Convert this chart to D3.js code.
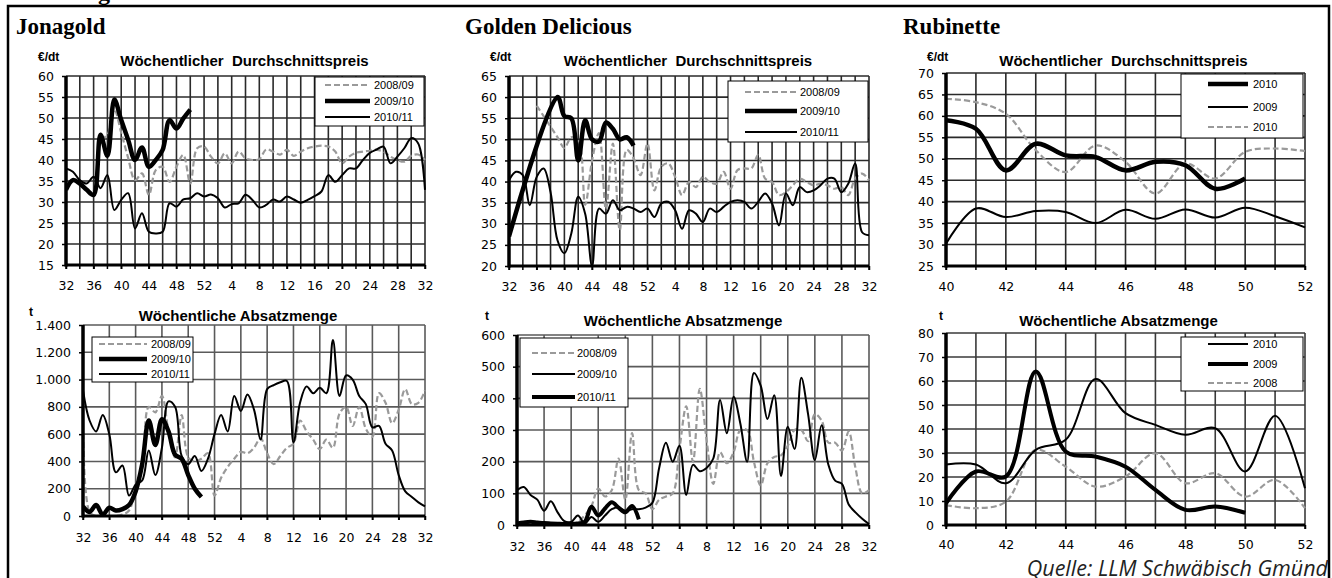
<!DOCTYPE html>
<html>
<head>
<meta charset="utf-8">
<script src="https://cdn.jsdelivr.net/npm/d3@7"></script>
<style>
  body { margin: 0; background: #fff; }
  svg { display: block; font-family: "Liberation Sans", Arial, sans-serif; }
</style>
</head>
<body>
<svg id="chart" width="1332" height="578"></svg>
<script>
// season weeks: 32..52 then 1..32
const seasonWeeks = d3.range(32, 53).concat(d3.range(1, 33));
const seasonTickIdx = d3.range(0, 53, 4);
const rubWeeks = d3.range(40, 53);

// Jonagold, weekly price (EUR/dt)
const jonaPrice0809 = [null, null, null, null, null, 45, 46, 52, 46.5, 40.5, 35.2, 36.8, 31.7, 37.6, 38.4, 34.8, 38.4, 41.2, 34.4, 42.8, 43.2, 40.8, 39.2, 41.6, 39.2, 42, 40.4, 40, 40.2, 42.5, 42, 41.3, 42.4, 41, 42, 42.8, 43.2, 43.4, 43.2, 42, 39.2, 40.8, 41.7, 42, 42.2, 42.4, 42, 40.8, 40, 39.6, 41, 41.3, 40];
const jonaPrice0910 = [32.9, 35.2, 34.4, 32.9, 31.7, 46, 41, 54.4, 49.5, 44.8, 40, 43, 38.4, 40, 42.4, 49.5, 47.5, 49.9, 52];
const jonaPrice1011 = [38, 37.2, 35.2, 34.4, 36, 33.3, 36.4, 28.1, 30.5, 32.1, 23.7, 27.3, 22.9, 22.5, 22.9, 29.7, 28.9, 30.6, 30.9, 32.1, 31.3, 31.8, 30.9, 28.7, 29.5, 29.7, 31.7, 30.5, 28.7, 29.3, 30.6, 30.1, 31.3, 30.6, 29.8, 30.5, 31.4, 32.5, 36.4, 34.8, 36.4, 38, 38, 40, 41.7, 42.5, 43.2, 39.2, 40.8, 42.8, 45.2, 44, 32.9];

// Jonagold, weekly sales (t)
const jonaAbs0809 = [1400, 30, 0, 0, 0, 0, 10, 40, 200, 350, 800, 760, 880, 620, 430, 740, 430, 400, 420, 460, 150, 280, 360, 420, 470, 460, 500, 570, 460, 380, 440, 500, 530, 700, 620, 560, 490, 560, 500, 750, 800, 660, 800, 640, 580, 900, 830, 680, 780, 930, 820, 830, 920];
const jonaAbs0910 = [70, 30, 80, 10, 60, 40, 50, 80, 180, 380, 700, 520, 710, 620, 450, 420, 300, 200, 140];
const jonaAbs1011 = [920, 700, 620, 740, 600, 320, 370, 150, 230, 260, 480, 300, 500, 840, 800, 440, 380, 440, 330, 420, 600, 740, 620, 880, 770, 890, 780, 560, 930, 960, 980, 990, 540, 830, 950, 900, 940, 900, 1290, 880, 1030, 1000, 880, 820, 650, 660, 530, 480, 300, 180, 140, 100, 70];

// Golden Delicious, weekly price (EUR/dt)
const goldPrice0809 = [null, null, null, null, 58, 55.5, 53, 50.5, 48, 50.5, 50, 34.5, 45, 51.5, 33.5, 49, 28.5, 47.5, 45.5, 41.5, 49, 37.9, 43.5, 44.3, 41.1, 36.8, 39.9, 38.7, 41.1, 39.9, 39.5, 42.3, 38.3, 42.7, 43.1, 43.1, 46.3, 40.7, 39.9, 36.8, 37.5, 39.1, 40.7, 39.9, 39.1, 39.5, 39.1, 38.3, 38.7, 36.8, 40.7, 41.9, 40.3];
const goldPrice0910 = [27, null, null, null, null, null, null, 60, 55.5, 55, 45, 54.5, 50, 49.5, 54, 52.5, 50, 50.5, 48.5];
const goldPrice1011 = [40.3, 42.3, 41.5, 34.4, 41.1, 43.1, 37.5, 26.1, 23, 27.7, 36.4, 32.4, 20, 33.6, 32.4, 35.6, 33.2, 34, 33.6, 32.8, 33.6, 31.6, 34.8, 35.2, 33.2, 28.8, 33.2, 32.4, 30.4, 33.6, 32.8, 34, 35.2, 35.6, 35.2, 33.6, 35.2, 37.2, 34.8, 29.6, 37.2, 34.4, 38.7, 37.5, 37.9, 39.1, 40.7, 40.7, 37.5, 39.5, 44.3, 28, 27.3];

// Golden Delicious, weekly sales (t)
const goldAbs0809 = [null, null, null, null, null, null, null, null, 3, 10, 30, 60, 115, 90, 110, 210, 80, 290, 110, 100, 50, 80, 90, 100, 240, 375, 200, 430, 270, 130, 230, 195, 230, 300, 300, 200, 125, 195, 215, 220, 250, 300, 300, 265, 350, 330, 260, 260, 235, 295, 180, 100, 110];
const goldAbs0910 = [110, 120, 95, 80, 45, 75, 40, 12, 10, 30, 5, 25, 10, 30, 50, 55, 45, 50, 50, 55, 70, 180, 260, 200, 250, 95, 190, 170, 180, 210, 395, 290, 405, 320, 200, 480, 440, 335, 410, 155, 310, 240, 465, 350, 205, 315, 190, 140, 130, 65, 40, 20, 3];
const goldAbs1011 = [5, 8, 10, 8, 6, 5, 4, 3, 4, 5, 10, 58, 30, 52, 72, 55, 40, 60, 18];

// Rubinette, weeks 40..52
const rubPrice2010 = [59, 57, 47.3, 53.5, 50.8, 50.4, 47.3, 49.3, 48.5, 43, 45.4];
const rubPrice2009 = [30.2, 38.4, 36.4, 37.8, 37.6, 35, 38.1, 36, 38.2, 36.3, 38.6, 36.6, 34];
const rubPrice2010b = [64, 63.2, 60.5, 52, 46.9, 53.1, 49.3, 41.9, 48.9, 45.4, 51.6, 52.4, 51.8];
const rubAbs2010 = [25.2, 25.2, 17.4, 31.3, 35.5, 60.8, 46.6, 41.7, 37.6, 40.3, 22.3, 45.5, 15.3];
const rubAbs2009 = [9, 22.3, 20.2, 64, 30.6, 28.5, 24.3, 14.6, 6.3, 7.7, 5.1];
const rubAbs2008 = [8.3, 7, 9.7, 31.3, 24.3, 16, 20.2, 29.9, 17.4, 21.6, 11.8, 18.8, 7];

const de = d3.formatLocale({ decimal: ",", thousands: ".", grouping: [3], currency: ["", " €"] });
const fmtT = de.format(",d");

const styles = {
  dash: { stroke: "#9a9a9a", width: 2.2, dash: "6,3" },
  thick: { stroke: "#000", width: 4.5, dash: null },
  thin: { stroke: "#000", width: 2, dash: null }
};
const tickFont = "'DejaVu Sans', Verdana, sans-serif";

const svg = d3.select("#chart");
let clipN = 0;

function drawPanel(p) {
  const x = d3.scaleLinear().domain(p.xDomain).range([p.left, p.right]);
  const y = d3.scaleLinear().domain(p.yDomain).range([p.bottom, p.top]);
  const g = svg.append("g");

  // grid
  g.append("g").selectAll("line").data(p.yTicks.slice(1)).join("line")
    .attr("x1", p.left).attr("x2", p.right)
    .attr("y1", d => y(d)).attr("y2", d => y(d))
    .attr("stroke", p.gridColor).attr("stroke-width", 1.6);
  g.append("g").selectAll("line").data(p.xGrid.slice(1)).join("line")
    .attr("x1", d => x(d)).attr("x2", d => x(d))
    .attr("y1", p.top).attr("y2", p.bottom)
    .attr("stroke", p.gridColor).attr("stroke-width", 1.6);

  // axes
  const ya = g.append("g").attr("transform", `translate(${p.left},0)`)
    .call(d3.axisLeft(y).tickValues(p.yTicks).tickSize(4).tickPadding(8).tickFormat(p.yFormat || (d => d)));
  ya.select(".domain").remove();
  ya.selectAll("line").attr("stroke", "#000").attr("stroke-width", 1.5);
  ya.selectAll("text").attr("font-size", 12.5).attr("fill", "#000").attr("font-family", tickFont);

  const xa = g.append("g").attr("transform", `translate(0,${p.bottom})`)
    .call(d3.axisBottom(x).tickValues(p.xTicks).tickSize(4).tickPadding(p.xPad).tickFormat(p.xFormat));
  xa.select(".domain").remove();
  xa.selectAll("line").attr("stroke", "#000").attr("stroke-width", 1.5);
  xa.selectAll("text").attr("font-size", 12.5).attr("fill", "#000").attr("font-family", tickFont);
  g.append("g").selectAll("line").data(p.xGrid).join("line")
    .attr("x1", d => x(d)).attr("x2", d => x(d))
    .attr("y1", p.bottom).attr("y2", p.bottom + 4)
    .attr("stroke", "#000").attr("stroke-width", 1.5);

  // series
  const id = "clip" + (clipN++);
  svg.append("clipPath").attr("id", id).append("rect")
    .attr("x", p.left).attr("y", p.top - 2)
    .attr("width", p.right - p.left + 2).attr("height", p.bottom - p.top + 2);
  const line = d3.line().x(d => x(d[0])).y(d => y(d[1])).curve(d3.curveCatmullRom.alpha(0.5));
  p.series.forEach(s => {
    const pts = s.values.map((v, i) => [p.x0 + i, v]).filter(d => d[1] != null);
    const st = styles[s.style];
    g.append("path").attr("clip-path", `url(#${id})`)
      .attr("d", line(pts)).attr("fill", "none")
      .attr("stroke", st.stroke).attr("stroke-width", s.width || st.width)
      .attr("stroke-dasharray", st.dash).attr("stroke-linejoin", "round");
  });

  // axis lines
  g.append("line").attr("x1", p.left).attr("x2", p.left).attr("y1", p.top).attr("y2", p.bottom + 1.5)
    .attr("stroke", "#000").attr("stroke-width", 3.5);
  g.append("line").attr("x1", p.left).attr("x2", p.right).attr("y1", p.bottom).attr("y2", p.bottom)
    .attr("stroke", "#000").attr("stroke-width", 3);

  // titles
  g.append("text").attr("x", (p.left + p.right) / 2 + p.titleDx).attr("y", p.titleY)
    .attr("text-anchor", "middle").attr("font-weight", "bold").attr("font-size", 15)
    .attr("xml:space", "preserve").text(p.title);
  g.append("text").attr("x", p.unitX).attr("y", p.unitY)
    .attr("font-weight", "bold").attr("font-size", 12).text(p.unit);

  // legend
  const L = p.legend;
  g.append("rect").attr("x", L.x0).attr("y", L.y0).attr("width", L.x1 - L.x0).attr("height", L.y1 - L.y0)
    .attr("fill", "#fff").attr("stroke", "#000").attr("stroke-width", 1);
  L.items.forEach((it, i) => {
    const st = styles[it.style];
    const s = p.series.find(d => d.style === it.style);
    g.append("line").attr("x1", L.lx0).attr("x2", L.lx1).attr("y1", L.ys[i]).attr("y2", L.ys[i])
      .attr("stroke", st.stroke).attr("stroke-width", (s && s.width) || st.width)
      .attr("stroke-dasharray", st.dash);
    g.append("text").attr("x", L.tx).attr("y", L.ys[i] + 4)
      .attr("font-size", 11).text(it.label);
  });
}

const seasonFmt = i => seasonWeeks[i];
const rubFmt = w => w;

drawPanel({
  left: 66, right: 425, top: 76, bottom: 265,
  xDomain: [0, 52], x0: 0, xTicks: seasonTickIdx, xGrid: d3.range(0, 53, 2), xFormat: seasonFmt, xPad: 12,
  yDomain: [15, 60], yTicks: d3.range(15, 61, 5), gridColor: "#2a2a2a",
  title: "Wöchentlicher  Durchschnittspreis", titleY: 66, titleDx: -1, unit: "€/dt", unitX: 38, unitY: 61,
  series: [
    { values: jonaPrice0809, style: "dash" },
    { values: jonaPrice1011, style: "thin" },
    { values: jonaPrice0910, style: "thick" }
  ],
  legend: { x0: 315, y0: 77, x1: 424, y1: 126, lx0: 325, lx1: 370, tx: 374, ys: [85, 101, 117],
    items: [{ style: "dash", label: "2008/09" }, { style: "thick", label: "2009/10" }, { style: "thin", label: "2010/11" }] }
});

drawPanel({
  left: 83, right: 425, top: 325, bottom: 516,
  xDomain: [0, 52], x0: 0, xTicks: seasonTickIdx, xGrid: d3.range(0, 53, 4), xFormat: seasonFmt, xPad: 13,
  yDomain: [0, 1400], yTicks: d3.range(0, 1401, 200), yFormat: fmtT, gridColor: "#5a5a5a",
  title: "Wöchentliche Absatzmenge", titleY: 321, titleDx: -16, unit: "t", unitX: 29, unitY: 316,
  series: [
    { values: jonaAbs0809, style: "dash" },
    { values: jonaAbs1011, style: "thin" },
    { values: jonaAbs0910, style: "thick" }
  ],
  legend: { x0: 92, y0: 337, x1: 193, y1: 382, lx0: 99, lx1: 147, tx: 151, ys: [344, 359, 374],
    items: [{ style: "dash", label: "2008/09" }, { style: "thick", label: "2009/10" }, { style: "thin", label: "2010/11" }] }
});

drawPanel({
  left: 509, right: 869, top: 76, bottom: 266,
  xDomain: [0, 52], x0: 0, xTicks: seasonTickIdx, xGrid: d3.range(0, 53, 2), xFormat: seasonFmt, xPad: 12,
  yDomain: [20, 65], yTicks: d3.range(20, 66, 5), gridColor: "#2a2a2a",
  title: "Wöchentlicher  Durchschnittspreis", titleY: 66, titleDx: -1, unit: "€/dt", unitX: 490, unitY: 61,
  series: [
    { values: goldPrice0809, style: "dash" },
    { values: goldPrice1011, style: "thin" },
    { values: goldPrice0910, style: "thick" }
  ],
  legend: { x0: 728, y0: 81, x1: 868, y1: 142, lx0: 745, lx1: 797, tx: 800, ys: [92, 111, 132],
    items: [{ style: "dash", label: "2008/09" }, { style: "thick", label: "2009/10" }, { style: "thin", label: "2010/11" }] }
});

drawPanel({
  left: 517, right: 869, top: 335, bottom: 525,
  xDomain: [0, 52], x0: 0, xTicks: seasonTickIdx, xGrid: d3.range(0, 53, 4), xFormat: seasonFmt, xPad: 13,
  yDomain: [0, 600], yTicks: d3.range(0, 601, 100), gridColor: "#5a5a5a",
  title: "Wöchentliche Absatzmenge", titleY: 326, titleDx: -10, unit: "t", unitX: 485, unitY: 320,
  series: [
    { values: goldAbs0809, style: "dash" },
    { values: goldAbs0910, style: "thin" },
    { values: goldAbs1011, style: "thick", width: 4 }
  ],
  legend: { x0: 520, y0: 338, x1: 628, y1: 407, lx0: 532, lx1: 575, tx: 577, ys: [353, 374, 397],
    items: [{ style: "dash", label: "2008/09" }, { style: "thin", label: "2009/10" }, { style: "thick", label: "2010/11" }] }
});

drawPanel({
  left: 946, right: 1305, top: 73, bottom: 266,
  xDomain: [40, 52], x0: 40, xTicks: d3.range(40, 53, 2), xGrid: rubWeeks, xFormat: rubFmt, xPad: 12,
  yDomain: [25, 70], yTicks: d3.range(25, 71, 5), gridColor: "#2a2a2a",
  title: "Wöchentlicher  Durchschnittspreis", titleY: 66, titleDx: -2, unit: "€/dt", unitX: 927, unitY: 61,
  series: [
    { values: rubPrice2010b, style: "dash" },
    { values: rubPrice2009, style: "thin" },
    { values: rubPrice2010, style: "thick" }
  ],
  legend: { x0: 1181, y0: 74, x1: 1303, y1: 138, lx0: 1208, lx1: 1248, tx: 1253, ys: [84, 107, 127],
    items: [{ style: "thick", label: "2010" }, { style: "thin", label: "2009" }, { style: "dash", label: "2010" }] }
});

drawPanel({
  left: 946, right: 1305, top: 333, bottom: 525,
  xDomain: [40, 52], x0: 40, xTicks: d3.range(40, 53, 2), xGrid: rubWeeks, xFormat: rubFmt, xPad: 11.5,
  yDomain: [0, 80], yTicks: d3.range(0, 81, 10), gridColor: "#3a3a3a",
  title: "Wöchentliche Absatzmenge", titleY: 326, titleDx: -7, unit: "t", unitX: 939, unitY: 320,
  series: [
    { values: rubAbs2008, style: "dash" },
    { values: rubAbs2010, style: "thin" },
    { values: rubAbs2009, style: "thick", width: 4 }
  ],
  legend: { x0: 1181, y0: 337, x1: 1303, y1: 391, lx0: 1208, lx1: 1248, tx: 1253, ys: [344, 364, 383],
    items: [{ style: "thin", label: "2010" }, { style: "thick", label: "2009" }, { style: "dash", label: "2008" }] }
});

// section headings
const heads = [["Jonagold", 16], ["Golden Delicious", 465], ["Rubinette", 903]];
svg.selectAll("text.head").data(heads).join("text").attr("class", "head")
  .attr("x", d => d[1]).attr("y", 34)
  .attr("font-family", "'Liberation Serif', 'DejaVu Serif', serif")
  .attr("font-weight", "bold").attr("font-size", 23).text(d => d[0]);

// cut-off page heading above the frame
svg.append("text").attr("x", 110).attr("y", 0).attr("text-anchor", "end")
  .attr("font-family", "'Liberation Serif', serif").attr("font-weight", "bold").attr("font-size", 24)
  .text("Vermarktung");

// frame
svg.append("path").attr("d", "M8,578 V6 H1329 V578").attr("fill", "none")
  .attr("stroke", "#000").attr("stroke-width", 2.5);

// source
svg.append("text").attr("x", 1328).attr("y", 576).attr("text-anchor", "end")
  .attr("font-family", "'Open Sans', 'Noto Sans', sans-serif").attr("font-style", "italic")
  .attr("font-size", 21.5).attr("fill", "#222").text("Quelle: LLM Schwäbisch Gmünd");
</script>
</body>
</html>
